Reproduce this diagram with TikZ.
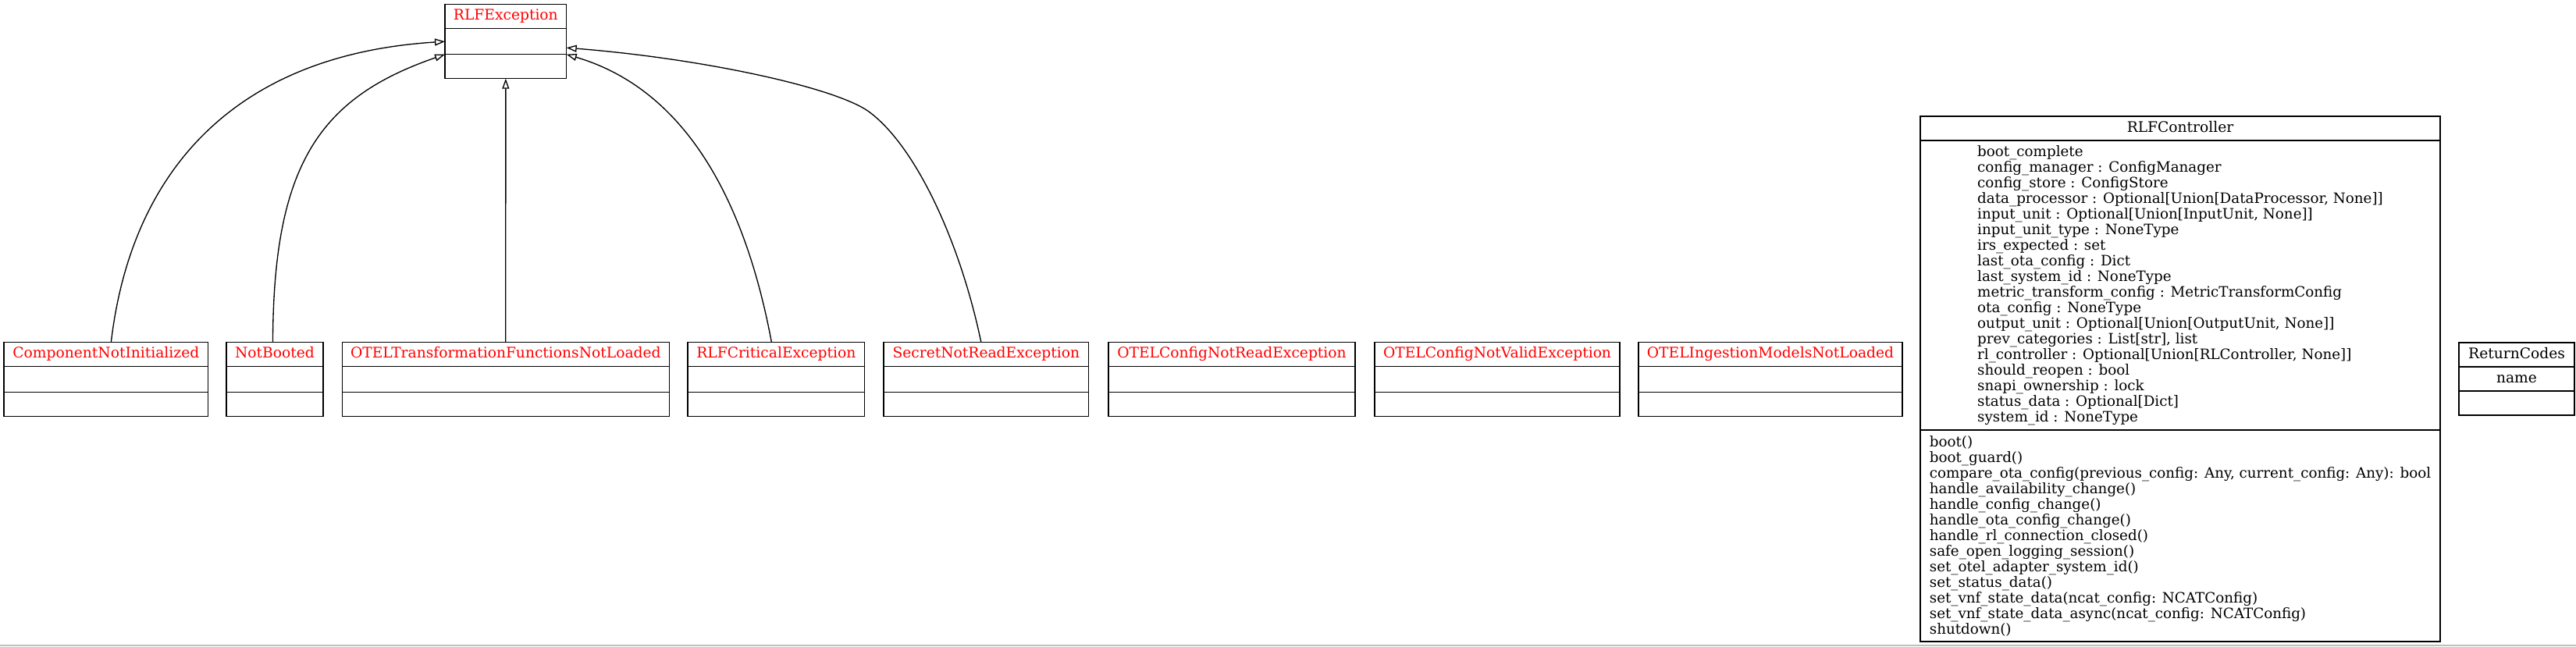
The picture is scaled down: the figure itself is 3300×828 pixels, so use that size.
\documentclass[tikz,border=0pt]{standalone}
\usepackage{fontspec}
\setmainfont{DejaVu Serif}
\usetikzlibrary{arrows.meta,positioning}

\begin{document}
\begin{tikzpicture}[x=1pt, y=-1pt,
        font=\fontsize{18.67}{20}\selectfont,
        classbox/.style={draw, line width=1.33pt, inner sep=0pt, outer sep=0pt, anchor=north},
        classname/.style={classbox, minimum height=31pt, text height=13.6pt, text depth=4.4pt},
        excname/.style={classname, text=red},
        classpart/.style={classbox, minimum height=33pt},
        members/.style={classpart, align=left, font=\fontsize{18.3}{20}\selectfont},
        inherits/.style={-{Triangle[open, length=13pt, width=9pt]}, line width=1.33pt}]
    \useasboundingbox (0, 0) rectangle (3300, 828);

    \node[excname, minimum width=155.7pt] (exc) at (647.85, 5.7) {RLFException};
    \node[classpart, minimum width=155.7pt, below=0pt of exc] (exc-a) {};
    \node[classpart, minimum width=155.7pt, minimum height=31pt, below=0pt of exc-a] (exc-m) {};

    \node[excname, minimum width=261.7pt] (cni) at (135.85, 438.3) {ComponentNotInitialized};
    \node[classpart, minimum width=261.7pt, below=0pt of cni] (cni-a) {};
    \node[classpart, minimum width=261.7pt, minimum height=31pt, below=0pt of cni-a] (cni-m) {};

    \node[excname, minimum width=124pt] (nb) at (352, 438.3) {NotBooted};
    \node[classpart, minimum width=124pt, below=0pt of nb] (nb-a) {};
    \node[classpart, minimum width=124pt, minimum height=31pt, below=0pt of nb-a] (nb-m) {};

    \node[excname, minimum width=419pt] (otf) at (647.8, 438.3) {OTELTransformationFunctionsNotLoaded};
    \node[classpart, minimum width=419pt, below=0pt of otf] (otf-a) {};
    \node[classpart, minimum width=419pt, minimum height=31pt, below=0pt of otf-a] (otf-m) {};

    \node[excname, minimum width=226.7pt] (crit) at (994.35, 438.3) {RLFCriticalException};
    \node[classpart, minimum width=226.7pt, below=0pt of crit] (crit-a) {};
    \node[classpart, minimum width=226.7pt, minimum height=31pt, below=0pt of crit-a] (crit-m) {};

    \node[excname, minimum width=262.6pt] (snr) at (1263.3, 438.3) {SecretNotReadException};
    \node[classpart, minimum width=262.6pt, below=0pt of snr] (snr-a) {};
    \node[classpart, minimum width=262.6pt, minimum height=31pt, below=0pt of snr-a] (snr-m) {};

    \node[excname, minimum width=316pt] (ocnr) at (1578, 438.3) {OTELConfigNotReadException};
    \node[classpart, minimum width=316pt, below=0pt of ocnr] (ocnr-a) {};
    \node[classpart, minimum width=316pt, minimum height=31pt, below=0pt of ocnr-a] (ocnr-m) {};

    \node[excname, minimum width=314pt] (ocnv) at (1918, 438.3) {OTELConfigNotValidException};
    \node[classpart, minimum width=314pt, below=0pt of ocnv] (ocnv-a) {};
    \node[classpart, minimum width=314pt, minimum height=31pt, below=0pt of ocnv-a] (ocnv-m) {};

    \node[excname, minimum width=338pt] (oiml) at (2268, 438.3) {OTELIngestionModelsNotLoaded};
    \node[classpart, minimum width=338pt, below=0pt of oiml] (oiml-a) {};
    \node[classpart, minimum width=338pt, minimum height=31pt, below=0pt of oiml-a] (oiml-m) {};

    \node[classname, minimum width=666pt] (ctl) at (2793, 149) {RLFController};
    \node[members, minimum width=666pt, minimum height=371pt, below=0pt of ctl] (ctl-a) {boot\_complete\\
        config\_manager : ConfigManager\\
        config\_store : ConfigStore\\
        data\_processor : Optional[Union[DataProcessor, None]]\\
        input\_unit : Optional[Union[InputUnit, None]]\\
        input\_unit\_type : NoneType\\
        irs\_expected : set\\
        last\_ota\_config : Dict\\
        last\_system\_id : NoneType\\
        metric\_transform\_config : MetricTransformConfig\\
        ota\_config : NoneType\\
        output\_unit : Optional[Union[OutputUnit, None]]\\
        prev\_categories : List[str], list\\
        rl\_controller : Optional[Union[RLController, None]]\\
        should\_reopen : bool\\
        snapi\_ownership : lock\\
        status\_data : Optional[Dict]\\
        system\_id : NoneType};
    \node[members, minimum width=666pt, minimum height=271pt, below=0pt of ctl-a] (ctl-m) {boot()\\
        boot\_guard()\\
        compare\_ota\_config(previous\_config: Any, current\_config: Any): bool\\
        handle\_availability\_change()\\
        handle\_config\_change()\\
        handle\_ota\_config\_change()\\
        handle\_rl\_connection\_closed()\\
        safe\_open\_logging\_session()\\
        set\_otel\_adapter\_system\_id()\\
        set\_status\_data()\\
        set\_vnf\_state\_data(ncat\_config: NCATConfig)\\
        set\_vnf\_state\_data\_async(ncat\_config: NCATConfig)\\
        shutdown()};

    \node[classname, minimum width=148pt] (rc) at (3224, 439) {ReturnCodes};
    \node[classpart, minimum width=148pt, minimum height=31pt, below=0pt of rc] (rc-a) {name};
    \node[classpart, minimum width=148pt, minimum height=31pt, below=0pt of rc-a] (rc-m) {};

    \draw[inherits] ([xshift=6.5pt]cni.north) .. controls (168, 220) and (300, 70) .. (exc-a.west);
    \draw[inherits] ([xshift=-2.5pt]nb.north) .. controls (350, 210) and (410, 125) .. (exc-a.south west);
    \draw[inherits] (otf.north) -- (exc-m.south);
    \draw[inherits] ([xshift=-6pt]crit.north) .. controls (955, 260) and (880, 115) .. (exc-a.south east);
    \draw[inherits] ([xshift=-6.5pt]snr.north) .. controls (1230, 310) and (1173, 187) .. (1113, 143)
        .. controls (1070, 112) and (900, 75) .. ([yshift=-8pt]exc-a.east);

    \draw[gray!50, line width=1.5pt] (0, 827.2) -- (3300, 827.2);
\end{tikzpicture}
\end{document}
